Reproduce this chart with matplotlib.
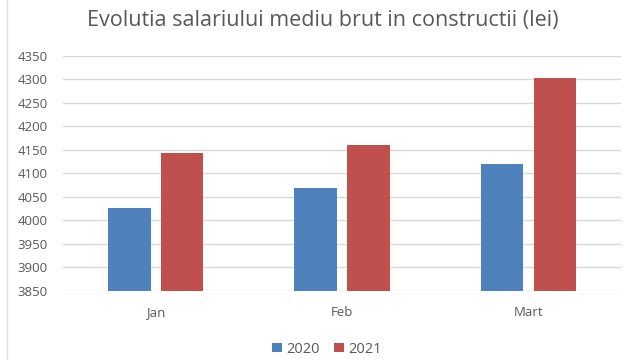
import matplotlib
matplotlib.use("Agg")
import matplotlib.pyplot as plt
import numpy as np

categories = ["Jan", "Feb", "Mart"]
series_names = ["2020", "2021"]
values_2020 = [4027, 4068, 4120]
values_2021 = [4143, 4161, 4302]
yticks = [3850, 3900, 3950, 4000, 4050, 4100, 4150, 4200, 4250, 4300, 4350]

plt.rcParams['font.family'] = ['Open Sans', 'DejaVu Sans']
txt = '#595959'

fig = plt.figure(figsize=(6.4, 3.6), dpi=100)
ax = fig.add_axes([0.098, 0.192, 0.873, 0.653])

x = np.arange(len(categories))
w = 0.227
off = 0.142
ax.bar(x - off, values_2020, w, color='#4F81BD', label=series_names[0], zorder=3)
ax.bar(x + off, values_2021, w, color='#C0504D', label=series_names[1], zorder=3)

ax.set_xlim(-0.5, 2.5)
ax.set_ylim(3850, 4350)
ax.set_yticks(yticks)
ax.set_yticklabels([str(t) for t in yticks], color=txt, fontsize=9.5)
ax.set_xticks(x)
ax.set_xticklabels(categories, color=txt, fontsize=9.5)
ax.tick_params(length=0)
ax.tick_params(axis='y', pad=11)
ax.tick_params(axis='x', pad=11)
ax.grid(axis='y', color='#D9D9D9', linewidth=1, zorder=0)
for s in ax.spines.values():
    s.set_visible(False)

fig.text(0.504, 0.942, "Evolutia salariului mediu brut in constructii (lei)",
         ha='center', va='center', fontsize=15.5, color=txt)

leg = fig.legend(loc='center', bbox_to_anchor=(0.511, 0.03), ncol=2, frameon=False,
                 fontsize=10.5, handlelength=0.65, handleheight=0.65, columnspacing=1.0,
                 handletextpad=0.3)
for t in leg.get_texts():
    t.set_color(txt)

fig.add_artist(plt.Line2D([0.011, 0.011], [0, 1], color='#E0E0E0', linewidth=1))

fig.savefig("out.png", dpi=100)
